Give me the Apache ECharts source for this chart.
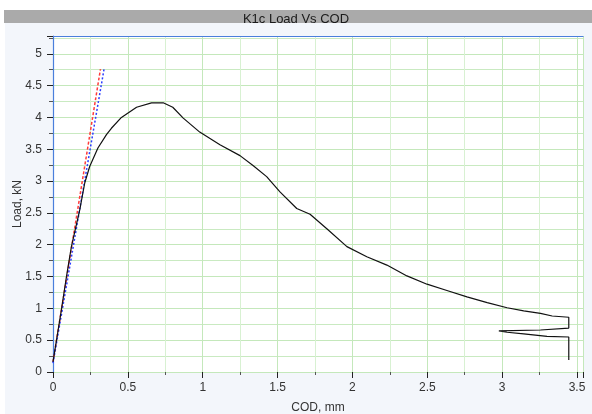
<!DOCTYPE html>
<html>
<head>
<meta charset="utf-8">
<script src="https://cdn.jsdelivr.net/npm/echarts@6/dist/echarts.min.js"></script>
<style>
  html, body { margin: 0; padding: 0; background: #fff; }
  #chart { width: 592px; height: 414px; }
</style>
</head>
<body>
<div id="chart"></div>
<script>
// Load vs COD test curve
var codMm = [0, 0.056, 0.09, 0.123, 0.179, 0.212, 0.245, 0.30, 0.357, 0.39, 0.457, 0.558, 0.658, 0.736, 0.80, 0.87, 0.98,
  1.115, 1.249, 1.338, 1.427, 1.516, 1.628, 1.717, 1.829, 1.963, 2.096, 2.23, 2.364, 2.498, 2.631, 2.765, 2.90,
  3.033, 3.144, 3.256, 3.334, 3.445, 3.445, 3.256, 2.978, 3.033, 3.144, 3.30, 3.445, 3.445];
var loadKn = [0.16, 0.975, 1.50, 1.97, 2.55, 2.97, 3.23, 3.52, 3.73, 3.83, 4.00, 4.16, 4.23, 4.23, 4.16, 3.99, 3.77,
  3.57, 3.40, 3.24, 3.07, 2.83, 2.57, 2.48, 2.25, 1.97, 1.81, 1.68, 1.51, 1.38, 1.28, 1.18, 1.09,
  1.01, 0.96, 0.92, 0.88, 0.86, 0.69, 0.66, 0.645, 0.625, 0.60, 0.56, 0.55, 0.19];

// the two slope lines near the origin
var redFitX = [0, 0.317];
var redFitY = [0.16, 4.76];
var blueFitX = [0, 0.341];
var blueFitY = [0.14, 4.76];

var xTicks = [0, 0.5, 1, 1.5, 2, 2.5, 3, 3.5];
var yTicks = [0, 0.5, 1, 1.5, 2, 2.5, 3, 3.5, 4, 4.5, 5];

function pairs(xs, ys) {
  var out = [];
  for (var i = 0; i < xs.length; i++) out.push([xs[i], ys[i]]);
  return out;
}
function onlyTicks(list) {
  return function (v) {
    for (var i = 0; i < list.length; i++) {
      if (Math.abs(list[i] - v) < 1e-6) return String(list[i]);
    }
    return '';
  };
}

var chart = echarts.init(document.getElementById('chart'));
var txt = { color: '#333', fontFamily: 'Liberation Sans', fontSize: 12 };

var option = {
  animation: false,
  backgroundColor: '#fff',
  graphic: [
    { type: 'rect', z: -10, shape: { x: 5, y: 23, width: 587, height: 391 }, style: { fill: '#f3f6fb' } },
    { type: 'rect', z: -9, shape: { x: 4, y: 10, width: 588, height: 13 }, style: { fill: '#aaaaaa' } }
  ],
  title: {
    text: 'K1c Load Vs COD',
    left: 'center',
    top: 8,
    textStyle: { color: '#1a1a1a', fontFamily: 'Liberation Sans', fontSize: 13, fontWeight: 'normal' }
  },
  grid: {
    left: 53, top: 36, right: 9, bottom: 42,
    outerBoundsMode: 'none',
    containLabel: false,
    show: true, backgroundColor: '#fff', borderWidth: 0
  },
  xAxis: [{
    type: 'value', min: 0, max: 3.54, interval: 0.5,
    offset: 5,
    name: 'COD, mm', nameLocation: 'middle', nameGap: 25, nameMoveOverlap: false,
    nameTextStyle: txt,
    axisLine: { show: false },
    axisTick: { show: true, length: 6, lineStyle: { color: '#222' } },
    minorTick: { show: true, splitNumber: 2, length: 3, lineStyle: { color: '#555' } },
    axisLabel: Object.assign({ margin: 5, formatter: onlyTicks(xTicks), showMaxLabel: false }, txt),
    splitLine: { show: true, lineStyle: { color: '#c4e8bb', width: 1 } },
    minorSplitLine: { show: true, lineStyle: { color: '#d8f1d2', width: 1 } }
  }, {
    type: 'value', min: 0, max: 3.54, position: 'top',
    axisLine: { show: true, onZero: false, lineStyle: { color: '#4a7fdc', width: 1.2 } },
    axisTick: { show: false }, axisLabel: { show: false }, splitLine: { show: false }
  }],
  yAxis: {
    type: 'value', min: 0, max: 5.28, interval: 0.5,
    name: 'Load, kN', nameLocation: 'middle', nameGap: 29, nameRotate: 90, nameMoveOverlap: false,
    nameTextStyle: txt,
    axisLine: { show: true, onZero: false, lineStyle: { color: '#4a7fdc', width: 1.2 } },
    axisTick: { show: true, length: 6, lineStyle: { color: '#222' } },
    minorTick: { show: true, splitNumber: 2, length: 4, lineStyle: { color: '#555' } },
    axisLabel: Object.assign({ margin: 11, formatter: onlyTicks(yTicks), showMaxLabel: false }, txt),
    splitLine: { show: true, lineStyle: { color: '#c4e8bb', width: 1 } },
    minorSplitLine: { show: true, lineStyle: { color: '#c9eac1', width: 1 } }
  },
  series: [{
    type: 'line', name: 'fit1', data: pairs(redFitX, redFitY), symbol: 'none',
    lineStyle: { color: '#ff3a3a', width: 1.5, type: [3, 2] }
  }, {
    type: 'line', name: 'fit2', data: pairs(blueFitX, blueFitY), symbol: 'none',
    lineStyle: { color: '#2a3cff', width: 1.5, type: [2, 2] }
  }, {
    type: 'line', name: 'load', data: pairs(codMm, loadKn), symbol: 'none',
    lineStyle: { color: '#111', width: 1.2 }
  }]
};

chart.setOption(option);
</script>
</body>
</html>
